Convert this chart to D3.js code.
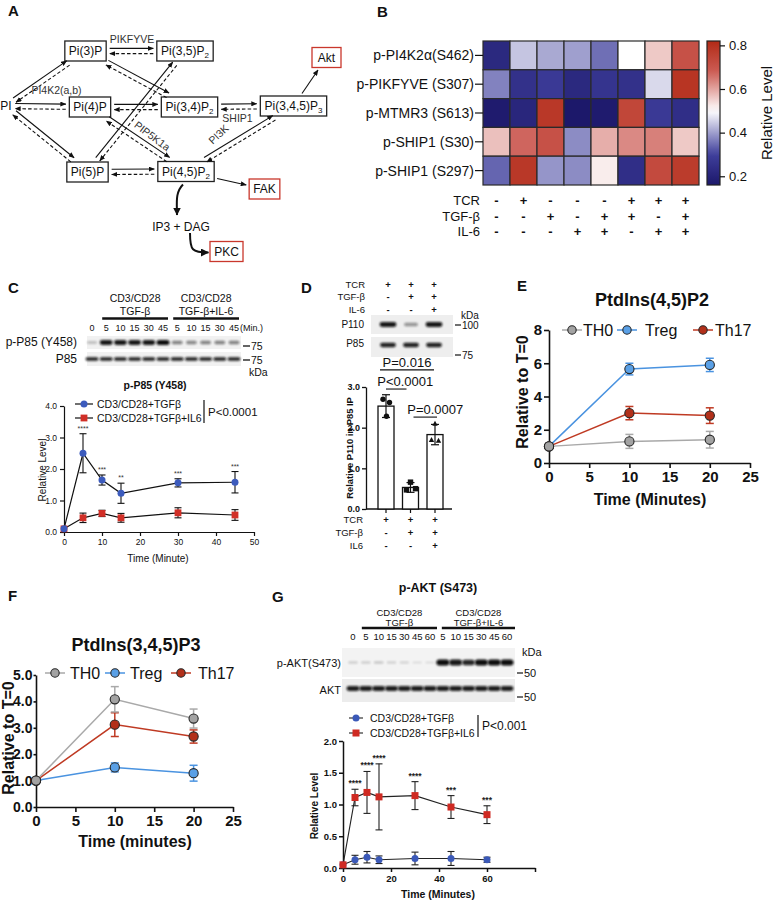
<!DOCTYPE html>
<html><head><meta charset="utf-8">
<script src="https://d3js.org/d3.v7.min.js"></script>
<style>html,body{margin:0;padding:0;background:#fff;} svg{display:block;}</style>
</head><body>
<svg id="fig" width="777" height="904" xmlns="http://www.w3.org/2000/svg"></svg>
<script>
// ======================= DATA =======================
// Panel A (pathway diagram)
const aNodes = [
  {id:"PI", text:"PI", kind:"plain"},
  {id:"P3", text:"Pi(3)P", kind:"box"},
  {id:"P35", text:"Pi(3,5)P", sub:"2", kind:"box"},
  {id:"P4", text:"Pi(4)P", kind:"box"},
  {id:"P34", text:"Pi(3,4)P", sub:"2", kind:"box"},
  {id:"P345", text:"Pi(3,4,5)P", sub:"3", kind:"box"},
  {id:"P5", text:"Pi(5)P", kind:"box"},
  {id:"P45", text:"Pi(4,5)P", sub:"2", kind:"box"},
  {id:"Akt", text:"Akt", kind:"red"},
  {id:"FAK", text:"FAK", kind:"red"},
  {id:"IP3", text:"IP3 + DAG", kind:"plain"},
  {id:"PKC", text:"PKC", kind:"red"}
];
const aReversible = [["PI","P3"],["PI","P4"],["PI","P5"],["P3","P35"],["P4","P34"],["P5","P45"],
                     ["P3","P34"],["P5","P35"],["P4","P45"],["P34","P345"],["P45","P345"]];
const aOneWay = [["P345","Akt"],["P45","FAK"]];
const aEnzymes = ["PIKFYVE","PI4K2(a,b)","SHIP1","PIP5K1a","PI3K"];

// Panel B (heatmap)
const hmRows = ["p-PI4K2α(S462)","p-PIKFYVE (S307)","p-MTMR3 (S613)","p-SHIP1 (S30)","p-SHIP1 (S297)"];
const hmValues = [
  [0.22,0.44,0.41,0.40,0.35,0.50,0.56,0.71],
  [0.37,0.25,0.28,0.22,0.26,0.25,0.46,0.79],
  [0.17,0.21,0.78,0.16,0.17,0.74,0.28,0.24],
  [0.57,0.67,0.71,0.38,0.59,0.63,0.64,0.56],
  [0.34,0.78,0.39,0.38,0.52,0.24,0.73,0.77]
];
const hmTCR = ["-","+","-","-","-","+","+","+"];
const hmTGF = ["-","-","+","-","+","+","-","+"];
const hmIL6 = ["-","-","-","+","+","-","+","+"];
const hmColorTicks = [0.2,0.4,0.6,0.8];
const hmColorDomain = [0.16,0.82];

// Panel C (p-P85)
const cTime = [0,5,10,15,30,45];
const cTGF = [0.10,2.50,1.65,1.23,1.56,1.58];
const cTGFerr = [0,0.62,0.16,0.32,0.13,0.34];
const cIL6 = [0.10,0.45,0.59,0.45,0.61,0.54];
const cIL6err = [0,0.15,0.10,0.14,0.16,0.17];
const cStars = ["","****","***","**","***","***"];
const cLaneLabels = ["0","5","10","15","30","45","5","10","15","30","45"];
const cBandPhos = [0.20,0.95,0.95,0.95,0.95,1.00,0.45,0.42,0.45,0.45,0.45];
const cBandTotal = [0.90,0.90,0.90,0.90,0.90,0.90,0.90,0.90,0.90,0.90,0.90];
const cXTicks = [0,10,20,30,40,50];
const cYTicks = [0,1,2,3,4];

// Panel D (P110 in P85 IP)
const dTCR = ["+","+","+"];
const dTGF = ["-","+","+"];
const dIL6 = ["-","-","+"];
const dMeans = [2.53,0.53,1.83];
const dErr = [0.28,0.12,0.25];
const dPoints = [[2.70,2.62,2.28],[0.66,0.47,0.50],[2.10,1.70,1.68]];
const dBandP110 = [0.95,0.35,0.95];
const dBandP85 = [0.90,0.90,0.90];
const dBrackets = [{a:0,b:2,v:3.42,label:"P=0.016"},{a:0,b:1,v:2.95,label:"P<0.0001"},{a:1,b:2,v:2.26,label:"P=0.0007"}];
const dYTicks = [0,1,2,3];

// Panel E  PtdIns(4,5)P2
const eTime = [0,10,20];
const eTH0 = [1,1.30,1.40],  eTH0err = [0,0.42,0.50];
const eTreg = [1,5.65,5.90], eTregErr = [0,0.35,0.40];
const eTh17 = [1,3.00,2.85], eTh17err = [0,0.40,0.47];
const eXTicks = [0,5,10,15,20,25];
const eYTicks = [0,2,4,6,8];

// Panel F  PtdIns(3,4,5)P3
const fTime = [0,10,20];
const fTH0 = [1,4.08,3.35],  fTH0err = [0,0.48,0.36];
const fTreg = [1,1.50,1.28], fTregErr = [0,0.17,0.30];
const fTh17 = [1,3.12,2.67], fTh17err = [0,0.45,0.25];
const fXTicks = [0,5,10,15,20,25];
const fYTicks = [0,1,2,3,4,5];

// Panel G (p-AKT)
const gTime = [0,5,10,15,30,45,60];
const gTGF = [0.05,0.13,0.17,0.13,0.15,0.15,0.13];
const gTGFerr = [0,0.07,0.09,0.06,0.10,0.11,0.04];
const gIL6 = [0.05,1.11,1.19,1.12,1.14,0.96,0.84];
const gIL6err = [0,0.13,0.33,0.52,0.22,0.18,0.14];
const gStars = ["","****","****","****","****","***","***"];
const gLaneLabels = ["0","5","10","15","30","45","60","5","10","15","30","45","60"];
const gBandPhos = [0.12,0.12,0.16,0.10,0.08,0.05,0.05,1.00,0.95,0.88,1.00,1.00,1.00];
const gBandTotal = [0.92,0.92,0.92,0.92,0.92,0.92,0.92,0.92,0.92,0.92,0.92,0.92,0.92];
const gXTicks = [0,20,40,60,80];
const gYTicks = [0,0.5,1.0,1.5,2.0];

// ======================= DRAWING =======================
const FONT = '"Liberation Sans", Arial, Helvetica, sans-serif';
const svg = d3.select("#fig").attr("font-family", FONT);
svg.append("rect").attr("width",777).attr("height",904).attr("fill","#fff");
const defs = svg.append("defs");
function marker(id,w,h,color){
  defs.append("marker").attr("id",id).attr("viewBox",`0 0 ${w} ${h}`).attr("refX",w-0.5).attr("refY",h/2)
    .attr("markerWidth",w).attr("markerHeight",h).attr("markerUnits","userSpaceOnUse").attr("orient","auto")
    .append("path").attr("d",`M0,0L${w},${h/2}L0,${h}Z`).attr("fill",color);
}
marker("arr",6,5,"#111");
marker("arrB",8,8,"#111");
defs.append("filter").attr("id","blur").attr("x","-30%").attr("y","-80%").attr("width","160%").attr("height","260%")
  .append("feGaussianBlur").attr("stdDeviation",0.8);

function T(g,x,y,s,o={}){
  const t = g.append("text").attr("x",x).attr("y",y).text(s).attr("font-size",o.size||10).attr("fill",o.fill||"#111");
  if(o.bold) t.attr("font-weight","bold");
  if(o.anchor) t.attr("text-anchor",o.anchor);
  if(o.rot!=null) t.attr("transform",`rotate(${o.rot},${x},${y})`);
  return t;
}
function L(g,x1,y1,x2,y2,c,w){
  return g.append("line").attr("x1",x1).attr("y1",y1).attr("x2",x2).attr("y2",y2).attr("stroke",c||"#111").attr("stroke-width",w||1);
}
function styleAxis(sel,o){
  sel.attr("font-family",FONT).attr("font-size",o.fs).attr("font-weight",o.bold?"bold":"normal");
  sel.select(".domain").attr("stroke","#111").attr("stroke-width",o.sw);
  sel.selectAll(".tick line").attr("stroke","#111").attr("stroke-width",o.sw);
  sel.selectAll(".tick text").attr("fill","#111");
}
function drawMarker(g,shape,x,y,o){
  if(shape==="square") g.append("rect").attr("x",x-o.r).attr("y",y-o.r).attr("width",2*o.r).attr("height",2*o.r)
      .attr("fill",o.fill).attr("stroke",o.stroke||"none").attr("stroke-width",o.sw||0);
  else if(shape==="triangle") g.append("path").attr("d",`M${x},${y-o.r*1.1}L${x+o.r},${y+o.r*0.8}L${x-o.r},${y+o.r*0.8}Z`).attr("fill",o.fill);
  else g.append("circle").attr("cx",x).attr("cy",y).attr("r",o.r).attr("fill",o.fill).attr("stroke",o.stroke||"none").attr("stroke-width",o.sw||0);
}
function series(g,x,y,ts,vals,errs,o){
  g.append("path").datum(d3.range(ts.length)).attr("d",d3.line().x(i=>x(ts[i])).y(i=>y(vals[i])))
    .attr("fill","none").attr("stroke",o.line).attr("stroke-width",o.lw);
  ts.forEach((t,i)=>{
    if(!errs[i]) return;
    const xx=x(t), y1=y(vals[i]+errs[i]), y2=y(vals[i]-errs[i]);
    L(g,xx,y1,xx,y2,o.err,o.ew);
    [y1,y2].forEach(yy=>L(g,xx-o.cap,yy,xx+o.cap,yy,o.err,o.ew));
  });
  ts.forEach((t,i)=>drawMarker(g,o.shape,x(t),y(vals[i]),o));
}
function blot(g,x0,x1,y0,y1,xs,intens,o){
  g.append("rect").attr("x",x0).attr("y",y0).attr("width",x1-x0).attr("height",y1-y0).attr("fill",o.bg||"#f1f1f1");
  const yc=(y0+y1)/2+(o.dy||0);
  xs.forEach((x,i)=>{
    const h=o.hMin+(o.hMax-o.hMin)*intens[i], w=o.wMin+(o.wMax-o.wMin)*intens[i];
    g.append("rect").attr("x",x-w/2).attr("y",yc-h/2).attr("width",w).attr("height",h).attr("rx",h/2)
      .attr("fill","#0d0d0d").attr("opacity",0.08+0.92*intens[i]).attr("filter","url(#blur)");
  });
}

// ---- panel letters ----
[["A",8,16],["B",377,17],["C",8,293],["D",301,293],["E",517,291],["F",8,601],["G",272,602]]
  .forEach(([s,x,y])=>T(svg,x,y,s,{size:15,bold:true}));

// ======================= PANEL A =======================
const gA = svg.append("g");
const aPos = {PI:[6,106],P3:[85.5,51],P35:[185,51],P4:[90,107],P34:[189.5,107],P345:[293.5,106],
              P5:[87.5,172],P45:[186,171.5],Akt:[326.5,57.5],FAK:[264.5,189],IP3:[181,227],PKC:[226.5,251.5]};
const aInfo = {};
const aBoxLayer = gA.append("g");
aNodes.forEach(n=>{
  const [cx,cy]=aPos[n.id];
  const t=gA.append("text").attr("x",cx).attr("y",cy+4.2).attr("text-anchor","middle").attr("font-size",12).attr("fill","#111").text(n.text);
  if(n.sub) t.append("tspan").attr("font-size",8).attr("dy",3).text(n.sub);
  const w=t.node().getBBox().width;
  let hw=w/2, hh=7;
  if(n.kind!=="plain"){
    hw=Math.max(w/2+4, n.kind==="red"?14.5:0); hh=10;
    aBoxLayer.append("rect").attr("x",cx-hw).attr("y",cy-hh).attr("width",2*hw).attr("height",2*hh)
      .attr("fill","#fff").attr("stroke",n.kind==="red"?"#c9372c":"#222").attr("stroke-width",1.3);
  }
  aInfo[n.id]={cx,cy,hw,hh};
});
function edge(a,b,gap){
  const A=aInfo[a],B=aInfo[b];
  let dx=B.cx-A.cx, dy=B.cy-A.cy; const len=Math.hypot(dx,dy); dx/=len; dy/=len;
  const ta=Math.min(A.hw/Math.abs(dx),A.hh/Math.abs(dy))+gap;
  const tb=Math.min(B.hw/Math.abs(dx),B.hh/Math.abs(dy))+gap;
  return {p1:[A.cx+dx*ta,A.cy+dy*ta],p2:[B.cx-dx*tb,B.cy-dy*tb],n:[dy,-dx]};
}
const gArr = gA.append("g");
aReversible.forEach(([a,b])=>{
  const {p1,p2,n}=edge(a,b,3.5), off=2.6;
  L(gArr,p1[0]+n[0]*off,p1[1]+n[1]*off,p2[0]+n[0]*off,p2[1]+n[1]*off,"#111",1.1).attr("marker-end","url(#arr)");
  L(gArr,p2[0]-n[0]*off,p2[1]-n[1]*off,p1[0]-n[0]*off,p1[1]-n[1]*off,"#111",1.1)
    .attr("stroke-dasharray","3.5,2.2").attr("marker-end","url(#arr)");
});
aOneWay.forEach(([a,b])=>{
  const {p1,p2}=edge(a,b,3);
  L(gArr,p1[0],p1[1],p2[0],p2[1],"#111",1.1).attr("marker-end","url(#arr)");
});
{
  const P=aInfo.P45, I=aInfo.IP3, K=aInfo.PKC;
  const x0=P.cx-3, y0=P.cy+P.hh+3, x1=I.cx-4, y1=I.cy-12;
  gArr.append("path").attr("d",`M${x0},${y0}C${x0-8},${y0+8} ${x1},${y1-12} ${x1},${y1}`)
    .attr("fill","none").attr("stroke","#111").attr("stroke-width",2).attr("marker-end","url(#arrB)");
  const sx=I.cx+9, sy=I.cy+6, ex=K.cx-K.hw-1.5, ey=K.cy+1;
  gArr.append("path").attr("d",`M${sx},${sy}C${sx},${ey-2} ${sx+2},${ey} ${ex},${ey}`)
    .attr("fill","none").attr("stroke","#111").attr("stroke-width",2).attr("marker-end","url(#arrB)");
}
T(gA,132,43,aEnzymes[0],{size:10.5,anchor:"middle",fill:"#333"});
T(gA,56.5,94,aEnzymes[1],{size:10.5,anchor:"middle",fill:"#333"});
T(gA,237.5,122,aEnzymes[2],{size:10.5,anchor:"middle",fill:"#333"});
T(gA,150,139,aEnzymes[3],{size:10.5,anchor:"middle",fill:"#333",rot:37});
T(gA,221,137,aEnzymes[4],{size:10.5,anchor:"middle",fill:"#333",rot:-43});

// ======================= PANEL B =======================
const gB = svg.append("g");
const bX = d3.scaleBand().domain(d3.range(8)).range([483,699]);
const bY = d3.scaleBand().domain(d3.range(5)).range([41,185]);
const hmColor = d3.scaleLinear().domain([0.16,0.3,0.5,0.68,0.82])
  .range(["#1c186a","#3f3f9c","#ffffff","#cc5c54","#b22a16"]).clamp(true);
hmValues.forEach((row,r)=>row.forEach((v,c)=>{
  gB.append("rect").attr("x",bX(c)).attr("y",bY(r)).attr("width",bX.bandwidth()).attr("height",bY.bandwidth())
    .attr("fill",hmColor(v)).attr("stroke","#2a2a2a").attr("stroke-width",1.2);
}));
hmRows.forEach((lab,r)=>{
  const yc=bY(r)+bY.bandwidth()/2;
  T(gB,474,yc+5,lab,{size:14,anchor:"end"});
  L(gB,475,yc,483,yc,"#111",1.2);
});
const cbY = d3.scaleLinear().domain(hmColorDomain).range([185,41]);
const grad = defs.append("linearGradient").attr("id","cbg").attr("x1",0).attr("y1",1).attr("x2",0).attr("y2",0);
d3.range(0,1.0001,0.05).forEach(t=>grad.append("stop").attr("offset",t)
  .attr("stop-color",hmColor(hmColorDomain[0]+t*(hmColorDomain[1]-hmColorDomain[0]))));
gB.append("rect").attr("x",707).attr("y",41).attr("width",13).attr("height",144).attr("fill","url(#cbg)").attr("stroke","#222").attr("stroke-width",1.2);
const cbAx = gB.append("g").attr("transform","translate(720,0)")
  .call(d3.axisRight(cbY).tickValues(hmColorTicks).tickFormat(d3.format(".1f")).tickSize(5).tickSizeOuter(0).tickPadding(4))
  .call(styleAxis,{fs:13,sw:1.2});
cbAx.select(".domain").remove();
T(gB,772,113,"Relative Level",{size:15,anchor:"middle",rot:-90});
[["TCR",hmTCR,205],["TGF-β",hmTGF,221],["IL-6",hmIL6,236]].forEach(([lab,arr,y])=>{
  T(gB,480,y,lab,{size:13,anchor:"end"});
  arr.forEach((s,c)=>T(gB,bX(c)+bX.bandwidth()/2,y,s,{size:13,anchor:"middle",bold:true}));
});

// ======================= PANEL C =======================
const gC = svg.append("g");
const cLane = d3.scalePoint().domain(d3.range(11)).range([92,234]);
[[1,5,"TGF-β"],[6,10,"TGF-β+IL-6"]].forEach(([a,b,lab])=>{
  const x0=cLane(a)-4, x1=cLane(b)+5, xc=(x0+x1)/2;
  T(gC,xc,302,"CD3/CD28",{size:10.5,anchor:"middle"});
  T(gC,xc,315,lab,{size:10.5,anchor:"middle"});
  L(gC,x0,318.5,x1,318.5,"#111",2.6);
});
cLaneLabels.forEach((s,i)=>T(gC,cLane(i),331,s,{size:9,anchor:"middle"}));
T(gC,240,331,"(Min.)",{size:9});
blot(gC,87,241,336,349,d3.range(11).map(cLane),cBandPhos,{hMin:2,hMax:5,wMin:9,wMax:13});
blot(gC,87,241,352,366,d3.range(11).map(cLane),cBandTotal,{hMin:2,hMax:3.8,wMin:12,wMax:13});
T(gC,77,346,"p-P85 (Y458)",{size:12,anchor:"end"});
T(gC,77,363,"P85",{size:12,anchor:"end"});
L(gC,243,346,250,346,"#111",1.3); T(gC,251,349.5,"75",{size:10.5});
L(gC,243,360,250,360,"#111",1.3); T(gC,251,363.5,"75",{size:10.5});
T(gC,249,376,"kDa",{size:10.5});
T(gC,155,389,"p-P85 (Y458)",{size:10.5,bold:true,anchor:"middle"});
const cX = d3.scaleLinear().domain([0,50]).range([64,254]);
const cY = d3.scaleLinear().domain([0,4]).range([532,406]);
gC.append("g").attr("transform","translate(0,532)")
  .call(d3.axisBottom(cX).tickValues(cXTicks).tickSize(4).tickSizeOuter(0).tickPadding(3)).call(styleAxis,{fs:8.5,sw:1.2});
gC.append("g").attr("transform","translate(64,0)")
  .call(d3.axisLeft(cY).tickValues(cYTicks).tickSize(4).tickSizeOuter(0).tickPadding(3)).call(styleAxis,{fs:8.5,sw:1.2});
series(gC,cX,cY,cTime,cIL6,cIL6err,{line:"#111",lw:1.2,err:"#111",ew:1.1,cap:3.5,shape:"square",r:3.4,fill:"#d12f27"});
series(gC,cX,cY,cTime,cTGF,cTGFerr,{line:"#111",lw:1.2,err:"#111",ew:1.1,cap:3.5,shape:"circle",r:3.5,fill:"#3c5bbd"});
cTime.forEach((t,i)=>{ if(cStars[i]) T(gC,cX(t),cY(cTGF[i]+cTGFerr[i])-3,cStars[i],{size:7,anchor:"middle",fill:"#333"}); });
L(gC,75,404,93,404,"#111",1.2); drawMarker(gC,"circle",84,404,{r:3.5,fill:"#3c5bbd"});
T(gC,97,408,"CD3/CD28+TGFβ",{size:10.5});
L(gC,75,418,93,418,"#111",1.2); drawMarker(gC,"square",84,418,{r:3.4,fill:"#d12f27"});
T(gC,97,422,"CD3/CD28+TGFβ+IL6",{size:10.5});
L(gC,204,400,204,423,"#111",1.2);
T(gC,208,416,"P<0.0001",{size:11.5});
T(gC,46,470,"Relative Level",{size:10,anchor:"middle",rot:-90});
T(gC,158,562,"Time (Minute)",{size:10,anchor:"middle"});

// ======================= PANEL D =======================
const gD = svg.append("g");
const dLane = d3.scalePoint().domain(d3.range(3)).range([388,434]);
[["TCR",dTCR,288],["TGF-β",dTGF,300],["IL-6",dIL6,313]].forEach(([lab,arr,y])=>{
  T(gD,365,y,lab,{size:9.5,anchor:"end"});
  arr.forEach((s,i)=>T(gD,dLane(i),y,s,{size:9.5,anchor:"middle",bold:true}));
});
blot(gD,371,453,315,334,d3.range(3).map(dLane),dBandP110,{hMin:2.5,hMax:5,wMin:12,wMax:17,bg:"#eeeeee"});
blot(gD,371,453,337,357,d3.range(3).map(dLane),dBandP85,{hMin:2.5,hMax:4.5,wMin:14,wMax:16,bg:"#eeeeee",dy:-2});
T(gD,364,328,"P110",{size:10,anchor:"end"});
T(gD,364,347,"P85",{size:10,anchor:"end"});
T(gD,461,319,"kDa",{size:10});
L(gD,455,325,461,325,"#111",1.2); T(gD,462,329,"100",{size:10});
L(gD,455,355,461,355,"#111",1.2); T(gD,462,359,"75",{size:10});
const dX = d3.scalePoint().domain(d3.range(3)).range([386,435]);
const dY = d3.scaleLinear().domain([0,3]).range([509,387]);
gD.append("g").attr("transform","translate(366,0)")
  .call(d3.axisLeft(dY).tickValues(dYTicks).tickSize(4).tickSizeOuter(0).tickPadding(2)).call(styleAxis,{fs:9,sw:1.3,bold:true});
L(gD,366,509,452,509,"#111",1.3);
dMeans.forEach((m,i)=>{
  const x=dX(i);
  gD.append("rect").attr("x",x-8).attr("y",dY(m)).attr("width",16).attr("height",dY(0)-dY(m)).attr("fill","#fff").attr("stroke","#111").attr("stroke-width",1.3);
  L(gD,x,509,x,513,"#111",1.2);
  L(gD,x,dY(m+dErr[i]),x,dY(m-dErr[i]),"#111",1.2);
  [m+dErr[i],m-dErr[i]].forEach(v=>L(gD,x-4,dY(v),x+4,dY(v),"#111",1.2));
});
const dJitter = [[-3,3.5,0.5],[0,-4,5],[0,-3.5,3.5]];
const dShapes = ["circle","square","triangle"];
dPoints.forEach((pts,i)=>pts.forEach((v,k)=>drawMarker(gD,dShapes[i],dX(i)+dJitter[i][k],dY(v),{r:2.7,fill:"#111"})));
const dBracketPad = [[-6,-1,0],[0,-4,9],[3,2,10]];
dBrackets.forEach((b,k)=>{
  const x0=dX(b.a)+dBracketPad[k][0], x1=dX(b.b)+dBracketPad[k][1];
  const y=dY(b.v);
  L(gD,x0,y,x1,y,"#111",1.1);
  T(gD,(x0+x1)/2+dBracketPad[k][2],y-3,b.label,{size:13,anchor:"middle"});
});
T(gD,353,448,"Relative P110 in P85 IP",{size:9.4,bold:true,anchor:"middle",rot:-90});
[["TCR",dTCR,523],["TGF-β",dTGF,536],["IL6",dIL6,549]].forEach(([lab,arr,y])=>{
  T(gD,363,y,lab,{size:9.5,anchor:"end"});
  arr.forEach((s,i)=>T(gD,dX(i),y,s,{size:9.5,anchor:"middle",bold:true}));
});

// ======================= PANELS E & F =======================
function ptdPanel(o){
  const g=svg.append("g");
  const x=d3.scaleLinear().domain([0,25]).range(o.xr);
  const y=d3.scaleLinear().domain(o.yd).range(o.yr);
  g.append("g").attr("transform",`translate(0,${o.yr[0]})`)
    .call(d3.axisBottom(x).tickValues(o.xt).tickSize(5).tickSizeOuter(0).tickPadding(3)).call(styleAxis,{fs:15,sw:1.6,bold:true});
  g.append("g").attr("transform",`translate(${o.xr[0]},0)`)
    .call(d3.axisLeft(y).tickValues(o.yt).tickSize(o.ytick).tickSizeOuter(0).tickPadding(o.ypad)).call(styleAxis,{fs:o.yfs,sw:1.6,bold:true});
  o.order.forEach(k=>{
    const s=o.series[k];
    series(g,x,y,o.time,s.v,s.e,{line:s.line,lw:1.5,err:s.line,ew:1.5,cap:4,shape:"circle",r:4.6,fill:s.fill,stroke:"#262626",sw:1.1});
  });
  o.legend.forEach(([k,lx,tx])=>{
    const s=o.series[k];
    L(g,lx-10,o.ly,lx+10,o.ly,s.line,1.5);
    drawMarker(g,"circle",lx,o.ly,{r:4.2,fill:s.fill,stroke:"#262626",sw:1.1});
    T(g,tx,o.ly+5.5,s.name,{size:16});
  });
  T(g,o.title[0],o.title[1],o.title[2],{size:18,bold:true,anchor:"middle"});
  T(g,o.ylab[0],o.ylab[1],"Relative to T=0",{size:16,bold:true,anchor:"middle",rot:-90});
  T(g,o.xlab[0],o.xlab[1],o.xlab[2],{size:16,bold:true,anchor:"middle"});
}
const colTH0={line:"#a9a9a9",fill:"#a3a3a3"}, colTreg={line:"#4a93e0",fill:"#5aa0e6"}, colTh17={line:"#bf3a23",fill:"#b2301a"};
ptdPanel({xr:[549,750],yd:[0,8],yr:[463,330],xt:eXTicks,yt:eYTicks,time:eTime,ytick:5,ypad:2,yfs:15,
  series:{TH0:{name:"TH0",v:eTH0,e:eTH0err,...colTH0},Treg:{name:"Treg",v:eTreg,e:eTregErr,...colTreg},Th17:{name:"Th17",v:eTh17,e:eTh17err,...colTh17}},
  order:["Treg","Th17","TH0"],legend:[["TH0",572,583],["Treg",627,645],["Th17",703,715]],ly:330,
  title:[652,306,"PtdIns(4,5)P2"],ylab:[528,392],xlab:[650,505,"Time  (Minutes)"]});
ptdPanel({xr:[36,233],yd:[0,5],yr:[807,675],xt:fXTicks,yt:fYTicks,time:fTime,ytick:2.5,ypad:1,yfs:14,
  series:{TH0:{name:"TH0",v:fTH0,e:fTH0err,...colTH0},Treg:{name:"Treg",v:fTreg,e:fTregErr,...colTreg},Th17:{name:"Th17",v:fTh17,e:fTh17err,...colTh17}},
  order:["Treg","Th17","TH0"],legend:[["TH0",55,70],["Treg",115,130],["Th17",181,198]],ly:673,
  title:[136,651,"PtdIns(3,4,5)P3"],ylab:[14,738],xlab:[135,847,"Time (minutes)"]});

// ======================= PANEL G =======================
const gG = svg.append("g");
T(gG,438,592,"p-AKT (S473)",{size:12.5,bold:true,anchor:"middle"});
const gLane = d3.scalePoint().domain(d3.range(13)).range([353,507]);
[[1,6,"TGF-β",-4,7],[7,12,"TGF-β+IL-6",-1,8]].forEach(([a,b,lab,pa,pb])=>{
  const x0=gLane(a)+pa, x1=gLane(b)+pb, xc=(x0+x1)/2;
  T(gG,xc,616,"CD3/CD28",{size:9.5,anchor:"middle"});
  T(gG,xc,626,lab,{size:9.5,anchor:"middle"});
  L(gG,x0,628,x1,628,"#111",2.6);
});
gLaneLabels.forEach((s,i)=>T(gG,gLane(i),640,s,{size:9.5,anchor:"middle"}));
blot(gG,342,515,648,677,d3.range(13).map(gLane),gBandPhos,{hMin:1.5,hMax:6,wMin:9,wMax:13,bg:"#f3f3f3"});
blot(gG,342,515,679,702,d3.range(13).map(gLane),gBandTotal,{hMin:3,hMax:5,wMin:12,wMax:13,bg:"#ececec",dy:-2});
T(gG,341,667,"p-AKT(S473)",{size:11,anchor:"end"});
T(gG,341,694,"AKT",{size:11,anchor:"end"});
T(gG,522,656,"kDa",{size:11});
L(gG,517,673,523,673,"#111",1.2); T(gG,524,677,"50",{size:11});
L(gG,517,697,523,697,"#111",1.2); T(gG,524,701,"50",{size:11});
const gX = d3.scaleLinear().domain([0,80]).range([343,535]);
const gY = d3.scaleLinear().domain([0,2]).range([868,741]);
gG.append("g").attr("transform","translate(0,868)")
  .call(d3.axisBottom(gX).tickValues(gXTicks).tickFormat(d=>d===80?"":d).tickSize(4).tickSizeOuter(0).tickPadding(3)).call(styleAxis,{fs:9.5,sw:1.5,bold:true});
gG.append("g").attr("transform","translate(343,0)")
  .call(d3.axisLeft(gY).tickValues(gYTicks).tickFormat(d3.format(".1f")).tickSize(4).tickSizeOuter(0).tickPadding(2)).call(styleAxis,{fs:9.5,sw:1.5,bold:true});
series(gG,gX,gY,gTime,gTGF,gTGFerr,{line:"#222",lw:1.1,err:"#222",ew:1.1,cap:3.5,shape:"circle",r:3.5,fill:"#3b59b8"});
series(gG,gX,gY,gTime,gIL6,gIL6err,{line:"#222",lw:1.1,err:"#222",ew:1.1,cap:3.5,shape:"square",r:3.5,fill:"#cf2a22"});
gTime.forEach((t,i)=>{ if(gStars[i]) T(gG,gX(t),gY(gIL6[i]+gIL6err[i])-3,gStars[i],{size:8.5,bold:true,anchor:"middle",fill:"#222"}); });
L(gG,349,718,363,718,"#333",1.2); drawMarker(gG,"circle",356,718,{r:3.5,fill:"#3b59b8"});
T(gG,370,722,"CD3/CD28+TGFβ",{size:10.5});
L(gG,349,733,363,733,"#333",1.2); drawMarker(gG,"square",356,733,{r:3.5,fill:"#cf2a22"});
T(gG,370,737,"CD3/CD28+TGFβ+IL6",{size:10.5});
L(gG,478,715,478,737,"#111",1.2);
T(gG,482,730,"P<0.001",{size:12});
T(gG,318,806,"Relative Level",{size:10,bold:true,anchor:"middle",rot:-90});
T(gG,438,898,"Time  (Minutes)",{size:10.5,bold:true,anchor:"middle"});
</script>
</body></html>
